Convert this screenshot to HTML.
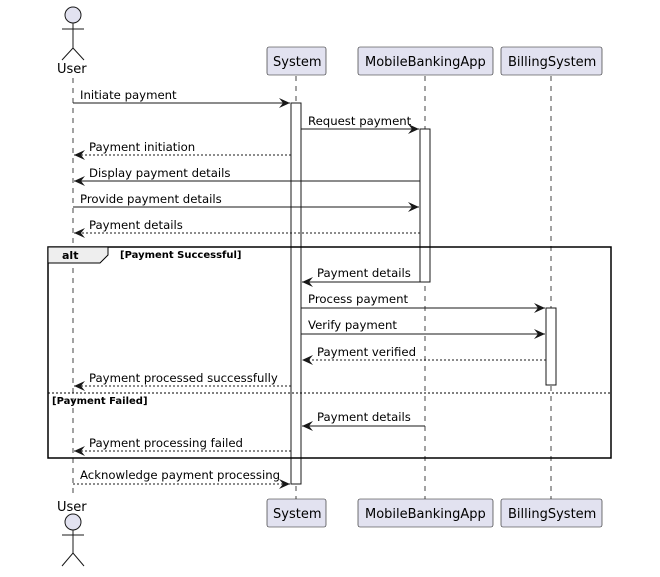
<!DOCTYPE html>
<html><head><style>
html,body{margin:0;padding:0;background:#fff;}
svg{display:block;font-family:"DejaVu Sans","Liberation Sans",sans-serif;}
text{font-size:11.7px;fill:#000;}
</style></head><body>
<svg width="660" height="577" viewBox="0 0 660 577" xmlns="http://www.w3.org/2000/svg">
<defs>
<marker id="a" markerWidth="12" markerHeight="10" refX="11" refY="5" orient="auto" markerUnits="userSpaceOnUse">
<path d="M0,0 L11,5 L0,10 L4,5 Z" fill="#181818"/>
</marker>
</defs>
<g stroke="#181818" stroke-width="0.8" stroke-dasharray="5,5">
<line x1="73" y1="78" x2="73" y2="497"/>
<line x1="296" y1="76" x2="296" y2="499"/>
<line x1="425" y1="76" x2="425" y2="499"/>
<line x1="551" y1="76" x2="551" y2="499"/>
</g>
<g fill="#E2E2F0" stroke="#181818" stroke-width="1">
<circle cx="73" cy="15" r="8"/>
<circle cx="73" cy="522" r="8"/>
</g>
<g stroke="#181818" stroke-width="1" fill="none">
<path d="M73,23 V48 M62,29 H84 M62,60 L73,48 L84,60"/>
<path d="M73,530 V553 M62,535 H84 M62,566 L73,553 L84,566"/>
</g>
<text x="57" y="73" style="font-size:13px">User</text>
<text x="57" y="511" style="font-size:13px">User</text>
<g fill="#E2E2F0" stroke="#181818" stroke-width="0.6">
<rect x="267" y="47" width="59" height="28" rx="2"/>
<rect x="358" y="47" width="135" height="28" rx="2"/>
<rect x="501" y="47" width="101" height="28" rx="2"/>
<rect x="267" y="499" width="59" height="28" rx="2"/>
<rect x="358" y="499" width="135" height="28" rx="2"/>
<rect x="501" y="499" width="101" height="28" rx="2"/>
</g>
<text x="273" y="66" style="font-size:13px">System</text>
<text x="365" y="66" style="font-size:13px">MobileBankingApp</text>
<text x="508" y="66" style="font-size:13px">BillingSystem</text>
<text x="273" y="518" style="font-size:13px">System</text>
<text x="365" y="518" style="font-size:13px">MobileBankingApp</text>
<text x="508" y="518" style="font-size:13px">BillingSystem</text>
<g fill="#fff" stroke="#181818" stroke-width="1">
<rect x="291" y="103" width="10" height="381"/>
<rect x="420" y="129" width="10" height="153"/>
<rect x="546" y="308" width="10" height="77"/>
</g>
<rect x="48" y="247" width="563" height="211" fill="none" stroke="#000" stroke-width="1.5"/>
<path d="M48,247 H108 V255 L100,263 H48 Z" fill="#EEEEEE" stroke="#000" stroke-width="1"/>
<text x="62" y="259" style="font-size:11px;font-weight:bold">alt</text>
<text x="120" y="258" style="font-size:10px;font-weight:bold">[Payment Successful]</text>
<line x1="48" y1="393" x2="611" y2="393" stroke="#000" stroke-width="1" stroke-dasharray="2,2"/>
<text x="52" y="404" style="font-size:10px;font-weight:bold">[Payment Failed]</text>
<g stroke="#181818" stroke-width="1" fill="none">
<line x1="73" y1="103" x2="290" y2="103" marker-end="url(#a)"/>
<line x1="301" y1="129" x2="419" y2="129" marker-end="url(#a)"/>
<line x1="291" y1="155" x2="74" y2="155" stroke-dasharray="2,2" marker-end="url(#a)"/>
<line x1="420" y1="181" x2="74" y2="181" marker-end="url(#a)"/>
<line x1="73" y1="207" x2="419" y2="207" marker-end="url(#a)"/>
<line x1="420" y1="233" x2="74" y2="233" stroke-dasharray="2,2" marker-end="url(#a)"/>
<line x1="420" y1="282" x2="302" y2="282" marker-end="url(#a)"/>
<line x1="301" y1="308" x2="545" y2="308" marker-end="url(#a)"/>
<line x1="301" y1="334" x2="545" y2="334" marker-end="url(#a)"/>
<line x1="546" y1="360" x2="302" y2="360" stroke-dasharray="2,2" marker-end="url(#a)"/>
<line x1="291" y1="386" x2="74" y2="386" stroke-dasharray="2,2" marker-end="url(#a)"/>
<line x1="425" y1="426" x2="302" y2="426" marker-end="url(#a)"/>
<line x1="291" y1="451" x2="74" y2="451" stroke-dasharray="2,2" marker-end="url(#a)"/>
<line x1="73" y1="484" x2="290" y2="484" stroke-dasharray="2,2" marker-end="url(#a)"/>
</g>
<text x="80" y="99">Initiate payment</text>
<text x="308" y="125">Request payment</text>
<text x="89" y="151">Payment initiation</text>
<text x="89" y="177">Display payment details</text>
<text x="80" y="203">Provide payment details</text>
<text x="89" y="229">Payment details</text>
<text x="317" y="277">Payment details</text>
<text x="308" y="303">Process payment</text>
<text x="308" y="329">Verify payment</text>
<text x="317" y="356">Payment verified</text>
<text x="89" y="382">Payment processed successfully</text>
<text x="317" y="421">Payment details</text>
<text x="89" y="447">Payment processing failed</text>
<text x="80" y="479">Acknowledge payment processing</text>
</svg>
</body></html>
